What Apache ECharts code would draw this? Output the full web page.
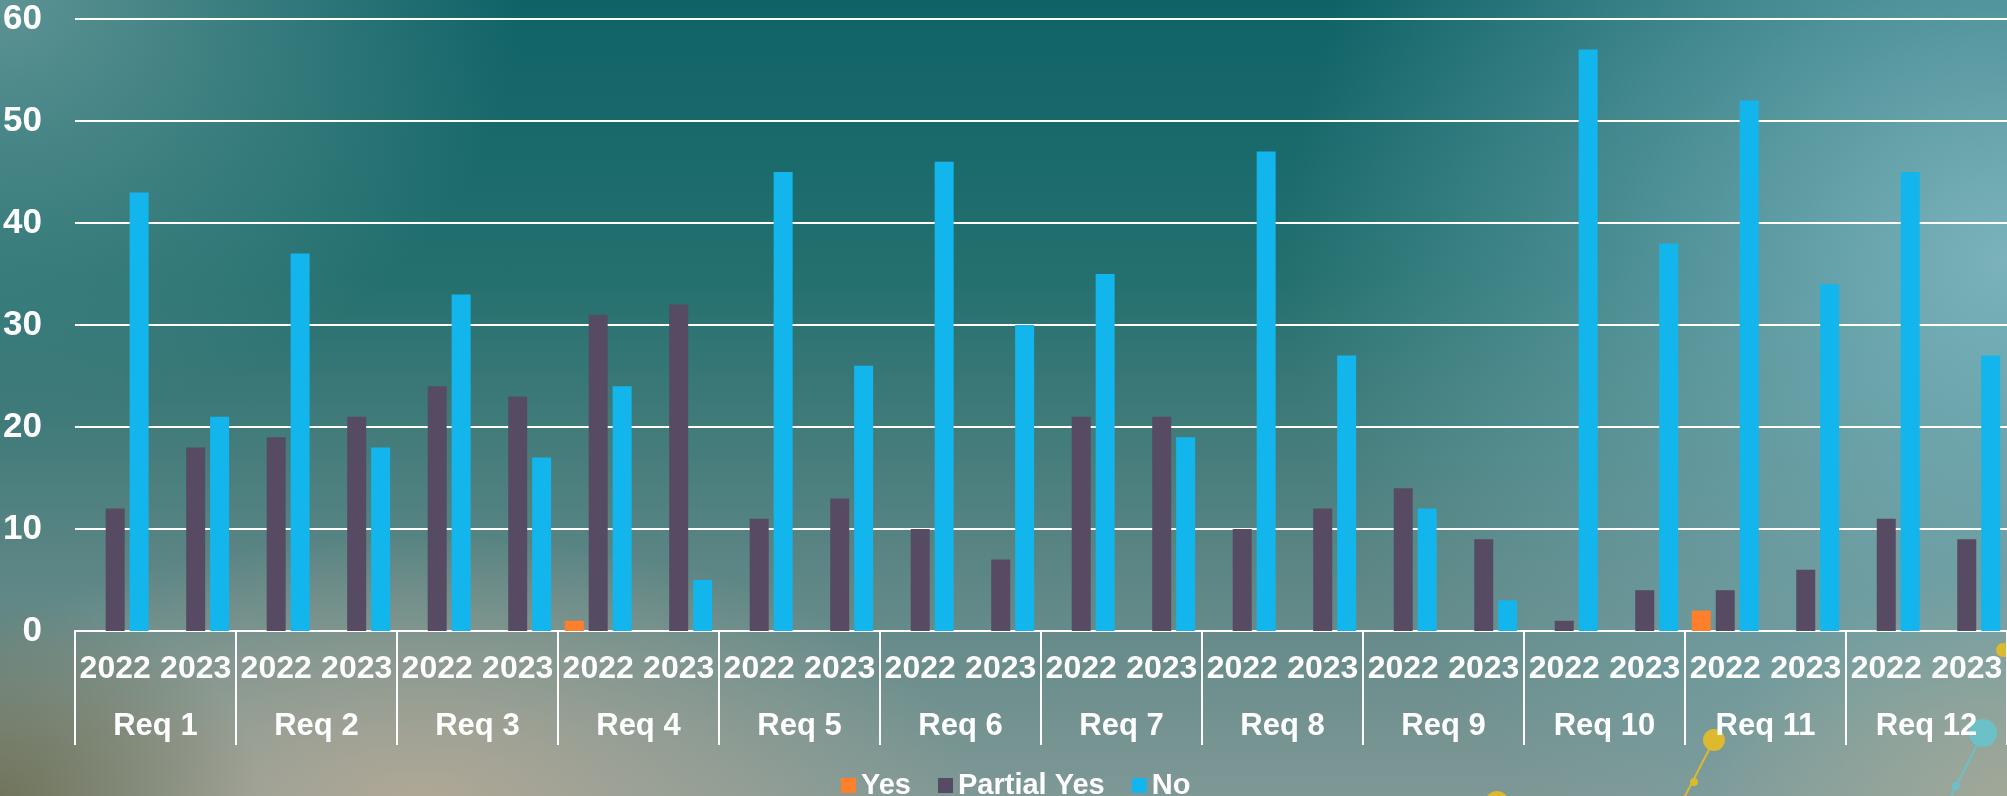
<!DOCTYPE html>
<html>
<head>
<meta charset="utf-8">
<script src="https://cdn.jsdelivr.net/npm/echarts@6/dist/echarts.min.js"></script>
<style>
  html, body { margin: 0; padding: 0; }
  #main {
    width: 2007px;
    height: 796px;
    background:
      radial-gradient(ellipse 260px 200px at 0px 796px, rgba(110,112,85,0.9), rgba(110,112,85,0) 100%),
      radial-gradient(ellipse 560px 260px at 420px 796px, rgba(178,168,150,0.95), rgba(178,168,150,0) 100%),
      radial-gradient(ellipse 300px 220px at 2007px 796px, rgba(170,170,150,0.8), rgba(170,170,150,0) 100%),
      radial-gradient(ellipse 720px 700px at 2007px 260px, rgba(128,182,192,0.95), rgba(128,182,192,0) 100%),
      radial-gradient(ellipse 520px 420px at 0px 0px, rgba(98,150,150,0.95), rgba(98,150,150,0) 100%),
      linear-gradient(to bottom, #0f6367 0%, #24706f 35%, #5a8584 70%, #7e9896 100%);
  }
</style>
</head>
<body>
<div id="main"></div>
<script>
// 数据
var reqs = ['Req 1', 'Req 2', 'Req 3', 'Req 4', 'Req 5', 'Req 6', 'Req 7', 'Req 8', 'Req 9', 'Req 10', 'Req 11', 'Req 12'];
var years = ['2022', '2023'];
var yesData     = [0, 0,  0, 0,  0, 0,  1, 0,  0, 0,  0, 0,  0, 0,  0, 0,  0, 0,  0, 0,  2, 0,  0, 0];
var partialData = [12, 18, 19, 21, 24, 23, 31, 32, 11, 13, 10, 7, 21, 21, 10, 12, 14, 9, 1, 4, 4, 6, 11, 9];
var noData      = [43, 21, 37, 18, 33, 17, 24, 5, 45, 26, 46, 30, 35, 19, 47, 27, 12, 3, 57, 38, 52, 34, 45, 27];

var yearLabels = [];
reqs.forEach(function () {
  years.forEach(function (y) { yearLabels.push(y); });
});

var font = 'Arial, "Liberation Sans", sans-serif';

var chartDom = document.getElementById('main');
var myChart = echarts.init(chartDom);

var option = {
  backgroundColor: 'transparent',
  animation: false,
  grid: {
    left: 71,
    right: -10,
    top: 19,
    bottom: 165,
    containLabel: false
  },
  legend: {
    data: ['Yes', 'Partial Yes', 'No'],
    left: 836,
    top: 766,
    icon: 'rect',
    itemWidth: 15,
    itemHeight: 15,
    itemGap: 27,
    textStyle: {
      color: '#ffffff',
      fontSize: 29,
      fontWeight: 'bold',
      fontFamily: font
    }
  },
  xAxis: [
    {
      type: 'category',
      data: yearLabels,
      axisLine: { lineStyle: { color: '#ffffff', width: 2 } },
      axisTick: { show: false },
      axisLabel: {
        interval: 0,
        color: '#ffffff',
        fontSize: 32,
        fontWeight: 'bold',
        fontFamily: font,
        margin: 22
      }
    },
    {
      type: 'category',
      data: reqs,
      position: 'bottom',
      axisLine: { show: false },
      axisTick: {
        show: true,
        interval: 0,
        length: 114,
        lineStyle: { color: '#ffffff', width: 2 }
      },
      axisLabel: {
        interval: 0,
        color: '#ffffff',
        fontSize: 31,
        fontWeight: 'bold',
        fontFamily: font,
        margin: 80
      }
    }
  ],
  yAxis: {
    type: 'value',
    min: 0,
    max: 60,
    interval: 10,
    axisLine: { show: false },
    axisTick: { show: false },
    splitLine: { lineStyle: { color: '#ffffff', width: 2 } },
    axisLabel: {
      color: '#ffffff',
      fontSize: 35,
      fontWeight: 'bold',
      fontFamily: font,
      margin: 33
    }
  },
  series: [
    {
      name: 'Yes',
      type: 'bar',
      xAxisIndex: 0,
      data: yesData,
      barWidth: 19,
      barGap: '26%',
      itemStyle: { color: '#ff7f2a' }
    },
    {
      name: 'Partial Yes',
      type: 'bar',
      xAxisIndex: 0,
      data: partialData,
      barWidth: 19,
      barGap: '26%',
      itemStyle: { color: '#564b63' }
    },
    {
      name: 'No',
      type: 'bar',
      xAxisIndex: 0,
      data: noData,
      barWidth: 19,
      barGap: '26%',
      itemStyle: { color: '#13b6ec' }
    }
  ],
  // 右下角的装饰圆点
  graphic: [
    { type: 'line', z: -5, shape: { x1: 1714, y1: 740, x2: 1683, y2: 800 }, style: { stroke: '#dcb92e', lineWidth: 2 } },
    { type: 'circle', z: -5, shape: { cx: 1714, cy: 740, r: 11 }, style: { fill: '#dcb92e' } },
    { type: 'circle', z: -5, shape: { cx: 1694, cy: 782, r: 4 }, style: { fill: '#dcb92e' } },
    { type: 'circle', z: -5, shape: { cx: 1497, cy: 803, r: 12 }, style: { fill: '#dcb92e' } },
    { type: 'line', z: -5, shape: { x1: 1983, y1: 733, x2: 1949, y2: 800 }, style: { stroke: '#6cc0c8', lineWidth: 2 } },
    { type: 'circle', z: -5, shape: { cx: 1983, cy: 733, r: 14 }, style: { fill: '#6cc0c8' } },
    { type: 'circle', z: -5, shape: { cx: 1956, cy: 786, r: 4 }, style: { fill: '#6cc0c8' } },
    { type: 'line', z: -5, shape: { x1: 2003, y1: 650, x2: 2012, y2: 636 }, style: { stroke: '#dcb92e', lineWidth: 2 } },
    { type: 'circle', z: -5, shape: { cx: 2003, cy: 650, r: 7 }, style: { fill: '#dcb92e' } }
  ]
};

myChart.setOption(option);
</script>
</body>
</html>
